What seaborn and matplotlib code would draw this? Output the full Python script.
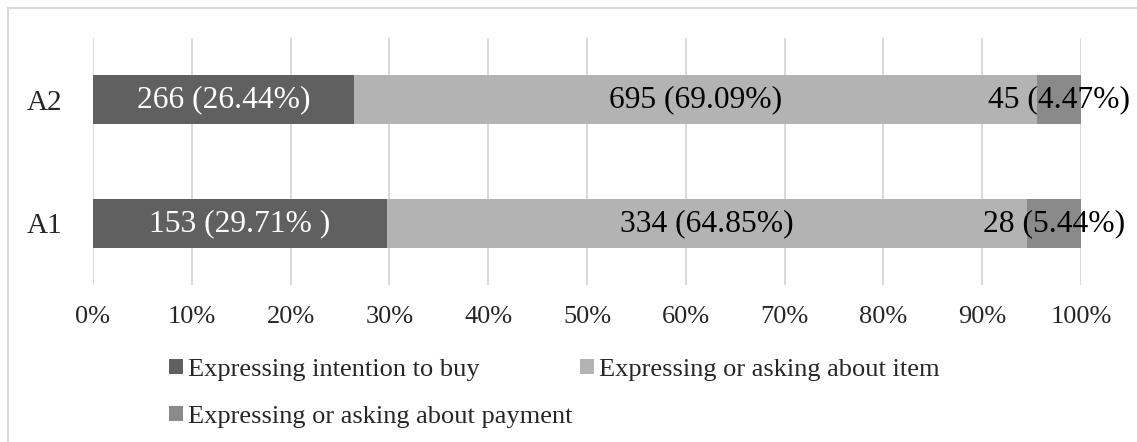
import matplotlib
matplotlib.use("Agg")
import matplotlib.pyplot as plt
from matplotlib.patches import Patch
from matplotlib.lines import Line2D
import numpy as np
import pandas as pd
import seaborn as sns

# Data
groups = ["A2", "A1"]
series_names = [
    "Expressing intention to buy",
    "Expressing or asking about item",
    "Expressing or asking about payment",
]
counts_buy = [266, 153]
counts_item = [695, 334]
counts_payment = [45, 28]
pct_buy = [26.44, 29.71]
pct_item = [69.09, 64.85]
pct_payment = [4.47, 5.44]
label_buy = ["266 (26.44%)", "153 (29.71% )"]
label_item = ["695 (69.09%)", "334 (64.85%)"]
label_payment = ["45 (4.47%)", "28 (5.44%)"]
x_ticks = [0, 10, 20, 30, 40, 50, 60, 70, 80, 90, 100]

colors = ["#606060", "#b3b3b3", "#8a8a8a"]

sns.set_theme(style="white")
plt.rcParams["font.family"] = ["Liberation Serif", "DejaVu Serif"]

W, H = 1137, 442
fig = plt.figure(figsize=(W / 100, H / 100), dpi=100)
ax = fig.add_axes([93 / W, 1 - 285 / H, (1081 - 93) / W, (285 - 38) / H])

df = pd.DataFrame({
    "group": groups,
    "buy": pct_buy,
    "item": pct_item,
    "payment": pct_payment,
})
df["cum1"] = df["buy"]
df["cum2"] = df["buy"] + df["item"]
df["cum3"] = df["cum2"] + df["payment"]

# Stacked bars: draw the cumulative totals from the widest down
for col, c in zip(["cum3", "cum2", "cum1"], [colors[2], colors[1], colors[0]]):
    sns.barplot(data=df, x=col, y="group", order=groups, color=c,
                width=0.4, orient="h", ax=ax, saturation=1, linewidth=0)

# Segment labels
for i in range(len(groups)):
    starts = [0, pct_buy[i], pct_buy[i] + pct_item[i]]
    widths = [pct_buy[i], pct_item[i], pct_payment[i]]
    texts = [label_buy[i], label_item[i], label_payment[i]]
    tcolors = ["white", "black", "black"]
    for s, w, t, tc in zip(starts, widths, texts, tcolors):
        ax.text(s + w / 2, i, t, ha="center", va="center", fontsize=22.7,
                color=tc, zorder=5)

ax.set_xlim(0, 100)
ax.set_ylim(1.5, -0.5)
ax.set_xticks(x_ticks)
ax.set_xticklabels([f"{v}%" for v in x_ticks], fontsize=19)
ax.tick_params(axis="x", length=0, pad=15)
ax.tick_params(axis="y", length=0, pad=22, labelsize=21)
ax.set_xlabel("")
ax.set_ylabel("")
ax.grid(axis="x", color="#d9d9d9", linewidth=1.4)
ax.set_axisbelow(True)
for sp in ax.spines.values():
    sp.set_visible(False)

# Outer chart frame (top and left edges)
fig.add_artist(Line2D([8 / W, 1.0], [1 - 8 / H, 1 - 8 / H],
                      transform=fig.transFigure, color="#d9d9d9", linewidth=1.5))
fig.add_artist(Line2D([8 / W, 8 / W], [0.0, 1 - 8 / H],
                      transform=fig.transFigure, color="#d9d9d9", linewidth=1.5))

# Legend (row-wise order with two columns)
handles = [Patch(facecolor=c, edgecolor="none") for c in colors]
order = [0, 2, 1]
leg = fig.legend([handles[k] for k in order], [series_names[k] for k in order],
                 ncol=2, loc="upper left", bbox_to_anchor=(169 / W, 1 - 359 / H),
                 frameon=False, fontsize=19, handlelength=0.53, handleheight=0.5,
                 handletextpad=0.19, columnspacing=0.3, labelspacing=0.95,
                 borderaxespad=0, borderpad=0)

fig.savefig("out.png", dpi=100)
